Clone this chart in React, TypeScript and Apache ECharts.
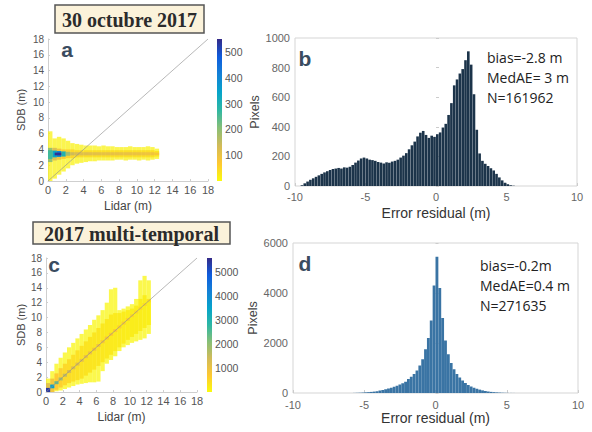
import React, { useEffect, useRef } from "react";
import * as echarts from "echarts";

// ---------- shared bins ----------
const lidarBins = [0, 0.5, 1, 1.5, 2, 2.5, 3, 3.5, 4, 4.5, 5, 5.5, 6, 6.5, 7, 7.5, 8, 8.5, 9, 9.5, 10, 10.5, 11, 11.5, 12];
const lidarBinWidth = 0.5;

// ---------- panel a: 30 octubre 2017 (density, Pixels per cell) ----------
const envLowA = [0.0, 0.3, 0.8, 1.2, 1.6, 2.0, 2.2, 2.3, 2.4, 2.5, 2.5, 2.6, 2.6, 2.6, 2.6, 2.7, 2.7, 2.6, 2.7, 2.7, 2.6, 2.7, 2.6, 2.7, 2.8];
const envHighA = [6.3, 5.4, 5.6, 5.4, 5.1, 4.8, 4.7, 4.6, 4.5, 4.5, 4.5, 4.4, 4.5, 4.4, 4.4, 4.3, 4.3, 4.3, 4.4, 4.3, 4.3, 4.3, 4.4, 4.3, 4.1];
const envCountA = [14, 12, 12, 12, 12, 12, 12, 12, 12, 12, 12, 12, 12, 12, 12, 12, 12, 12, 12, 12, 12, 12, 12, 12, 10];
const bandLowA = [2.4, 2.6, 2.7, 2.8, 2.9, 2.9, 3.0, 3.0, 3.0, 3.0, 3.0, 3.0, 3.0, 3.0, 3.0, 3.0, 3.0, 3.0, 3.0, 3.0, 3.0, 3.0, 3.0, 3.0, 3.1];
const bandHighA = [4.2, 4.2, 4.1, 4.0, 4.0, 4.0, 3.9, 3.9, 3.9, 3.9, 3.9, 3.9, 3.9, 3.9, 3.9, 3.9, 3.9, 3.9, 3.9, 3.9, 3.9, 3.9, 3.9, 3.9, 3.8];
const bandCountA = [200, 120, 90, 70, 55, 50, 45, 45, 42, 42, 40, 40, 40, 40, 40, 40, 40, 40, 40, 40, 40, 40, 40, 38, 32];
const coreLowA = [2.8, 3.0, 3.05, 3.1, 3.2, 3.25, 3.25, 3.25, 3.25, 3.25, 3.25, 3.25, 3.25, 3.25, 3.25, 3.25, 3.25, 3.25, 3.25, 3.25, 3.25, 3.25, 3.25, 3.25, 3.3];
const coreHighA = [3.9, 3.85, 3.8, 3.75, 3.7, 3.65, 3.65, 3.65, 3.65, 3.65, 3.65, 3.65, 3.65, 3.65, 3.65, 3.65, 3.65, 3.65, 3.65, 3.65, 3.65, 3.65, 3.65, 3.65, 3.6];
const coreCountA = [260, 340, 400, 300, 180, 140, 125, 118, 115, 112, 110, 108, 106, 105, 104, 103, 102, 100, 100, 98, 96, 95, 92, 90, 80];
const peakCellsA = [[0.75, 1.5, 3.25, 3.6, 540]];
const pixelsMaxA = 550;

// ---------- panel b: residual histogram (bins of 0.2 m from -10) ----------
const residualStart = -10;
const residualStep = 0.2;
const countsB = [
  0, 0, 5, 18, 30, 42, 52, 62, 72, 82,
  92, 100, 108, 115, 118, 122, 118, 126, 124, 130,
  142, 158, 172, 186, 192, 186, 178, 175, 170, 162,
  158, 152, 160, 157, 165, 170, 178, 192, 205, 222,
  248, 275, 300, 335, 360, 372, 345, 325, 340, 332,
  350, 362, 395, 420, 480, 560, 680, 720, 760, 790,
  850, 910, 820, 620, 380, 220, 170, 150, 135, 120,
  105, 82, 58, 38, 22, 12, 5, 2, 0, 0,
  0, 0, 0, 0, 0, 0, 0, 0, 0, 0,
  0, 0, 0, 0, 0, 0, 0, 0, 0, 0,
];
const statsB = ["bias=-2.8 m", "MedAE= 3 m", "N=161962"];

// ---------- panel c: 2017 multi-temporal ----------
const envLowC = [0.0, 0.0, 0.1, 0.2, 0.4, 0.6, 0.8, 1.0, 1.1, 1.2, 1.3, 1.3, 1.4, 2.8, 3.8, 4.3, 4.8, 5.5, 6.0, 6.3, 6.6, 6.8, 7.0, 7.2, 7.8];
const envHighC = [1.8, 2.8, 3.8, 4.6, 5.3, 6.0, 6.6, 7.2, 7.8, 8.4, 9.0, 9.7, 10.3, 11.0, 12.0, 13.8, 14.0, 11.0, 11.2, 11.5, 11.8, 12.5, 15.0, 15.6, 15.0];
const envCountC = [90, 80, 80, 80, 80, 80, 80, 80, 80, 80, 80, 80, 80, 80, 80, 80, 80, 80, 80, 80, 80, 80, 80, 80, 80];
const bandLowC = [0.0, 0.0, 0.3, 0.6, 0.9, 1.2, 1.4, 1.6, 1.8, 2.2, 2.6, 3.0, 3.5, 4.0, 4.5, 5.0, 5.5, 6.0, 6.5, 7.0, 7.4, 7.8, 8.2, 8.6, 9.0];
const bandHighC = [1.2, 1.8, 2.5, 3.2, 3.8, 4.4, 5.0, 5.6, 6.2, 6.8, 7.4, 8.0, 8.6, 9.2, 9.8, 10.4, 10.6, 10.6, 10.8, 11.0, 11.2, 11.6, 12.5, 13.0, 12.5];
const bandCountC = [1200, 900, 700, 600, 500, 450, 400, 380, 350, 330, 320, 300, 300, 280, 260, 250, 240, 230, 220, 210, 200, 200, 200, 190, 180];
const coreLowC = [0.0, 0.5, 1.05, 1.55, 2.05, 2.55, 3.05, 3.55, 4.05, 4.55, 5.05, 5.55, 6.05, 6.55, 7.05, 7.55, 8.05, 8.55, 9.05, 9.55, 10.05, 10.55, 11.05, 11.55, 12.05];
const coreHighC = [0.55, 1.0, 1.45, 1.95, 2.45, 2.95, 3.45, 3.95, 4.45, 4.95, 5.45, 5.95, 6.45, 6.95, 7.45, 7.95, 8.45, 8.95, 9.45, 9.95, 10.45, 10.95, 11.45, 11.95, 12.45];
const coreCountC = [5400, 3600, 2400, 1800, 1500, 1300, 1200, 1100, 1050, 1000, 950, 900, 850, 800, 750, 700, 650, 600, 600, 550, 500, 500, 450, 450, 400];
const pixelsMaxC = 5600;

// ---------- panel d ----------
const countsD = [
  0, 0, 0, 0, 0, 0, 0, 0, 0, 0,
  0, 0, 0, 0, 0, 0, 0, 0, 0, 0,
  0, 4, 8, 12, 18, 26, 34, 44, 56, 70,
  100, 120, 150, 180, 210, 250, 290, 340, 390, 450,
  560, 650, 760, 900, 1100, 1350, 1750, 2200, 2900, 4300,
  5450, 4200, 3000, 2100, 1550, 1200, 950, 760, 620, 500,
  400, 320, 260, 210, 170, 135, 105, 80, 60, 45,
  34, 25, 18, 12, 8, 5, 3, 2, 1, 0,
  0, 0, 0, 0, 0, 0, 0, 0, 0, 0,
  0, 0, 0, 0, 0, 0, 0, 0, 0, 0,
];
const statsD = ["bias=-0.2m", "MedAE=0.4 m", "N=271635"];

const oneToOne = [[0, 0], [18, 18]];

// reversed parula colormap
const PARULA_R = ["#f9fb0e", "#fec832", "#d1bb59", "#87bf77", "#2eb7a4", "#06a4ca", "#1481d6", "#0f5cdd", "#352a87"];

const SANS = "Liberation Sans, Arial, sans-serif";

function cells(lows: number[], highs: number[], counts: number[]) {
  return lidarBins.map((x, i) => [x, x + lidarBinWidth, lows[i], highs[i], counts[i]]);
}
function histData(counts: number[]) {
  return counts.map((c, i) => [residualStart + i * residualStep, residualStart + (i + 1) * residualStep, c]);
}

function densitySeries(data: number[][], gi: number, opacity: number) {
  return {
    type: "custom",
    xAxisIndex: gi,
    yAxisIndex: gi,
    encode: { x: [0, 1], y: [2, 3] },
    silent: true,
    data,
    renderItem: (_p: any, api: any) => {
      const p0 = api.coord([api.value(0), api.value(2)]);
      const p1 = api.coord([api.value(1), api.value(3)]);
      return {
        type: "rect",
        shape: { x: p0[0], y: p1[1], width: p1[0] - p0[0], height: p0[1] - p1[1] },
        style: { fill: api.visual("color"), opacity },
      };
    },
  };
}

function histSeries(counts: number[], gi: number, color: string, gap: number) {
  return {
    type: "custom",
    xAxisIndex: gi,
    yAxisIndex: gi,
    encode: { x: [0, 1], y: 2 },
    silent: true,
    data: histData(counts),
    renderItem: (_p: any, api: any) => {
      const p0 = api.coord([api.value(0), 0]);
      const p1 = api.coord([api.value(1), api.value(2)]);
      return {
        type: "rect",
        shape: { x: p0[0], y: p1[1], width: Math.max(0.3, p1[0] - p0[0] - gap), height: p0[1] - p1[1] },
        style: { fill: color },
      };
    },
  };
}

function colorbarSeries(max: number, gi: number) {
  return {
    type: "custom",
    xAxisIndex: gi,
    yAxisIndex: gi,
    encode: { x: 0, y: 1 },
    silent: true,
    data: [[0, max]],
    renderItem: (_p: any, api: any) => {
      const p0 = api.coord([0, 0]);
      const p1 = api.coord([1, api.value(1)]);
      return {
        type: "rect",
        shape: { x: p0[0], y: p1[1], width: p1[0] - p0[0], height: p0[1] - p1[1] },
        style: {
          fill: new echarts.graphic.LinearGradient(0, 1, 0, 0, PARULA_R.map((c, i) => ({ offset: i / (PARULA_R.length - 1), color: c }))),
        },
      };
    },
  };
}

function lineSeries(gi: number) {
  return {
    type: "line",
    xAxisIndex: gi,
    yAxisIndex: gi,
    data: oneToOne,
    symbol: "none",
    silent: true,
    lineStyle: { color: "#8f8f8f", width: 0.8, opacity: 0.8 },
    z: 5,
  };
}

const lightLine = { show: true, lineStyle: { color: "#cfcfcf" } };

function scatterX(gi: number, nameGap: number) {
  return {
    type: "value", gridIndex: gi, min: 0, max: 18, interval: 2,
    axisLine: lightLine,
    axisTick: { show: true, inside: true, length: 2, lineStyle: { color: "#cfcfcf" } },
    splitLine: { show: false },
    axisLabel: { fontSize: 11, margin: 3, color: "#555", fontFamily: SANS },
    name: "Lidar (m)", nameLocation: "middle", nameGap,
    nameTextStyle: { fontSize: 12, color: "#444", fontFamily: SANS },
  };
}
function scatterY(gi: number, nameGap: number) {
  return {
    type: "value", gridIndex: gi, min: 0, max: 18, interval: 2,
    axisLine: lightLine,
    axisTick: { show: true, inside: true, length: 2, lineStyle: { color: "#cfcfcf" } },
    splitLine: { show: false },
    axisLabel: { fontSize: 10, margin: 4, color: "#555", fontFamily: SANS },
    name: "SDB (m)", nameLocation: "middle", nameGap, nameRotate: 90,
    nameTextStyle: { fontSize: 11, color: "#444", fontFamily: SANS },
  };
}
function cbX(gi: number) {
  return { type: "value", gridIndex: gi, min: 0, max: 1, show: false };
}
function cbY(gi: number, max: number, interval: number, top: number) {
  return {
    type: "value", gridIndex: gi, min: 0, max, interval, position: "right",
    axisLine: { show: false }, axisTick: { show: false }, splitLine: { show: false },
    axisLabel: {
      fontSize: 10.5, margin: 3, color: "#555", fontFamily: SANS,
      formatter: (v: number) => (v > 0 && v <= top ? String(v) : ""),
    },
  };
}
function histX(gi: number, labelMargin: number, nameGap: number) {
  return {
    type: "value", gridIndex: gi, min: -10, max: 10, interval: 5,
    axisLine: { show: false },
    axisTick: { show: true, inside: true, length: 3, lineStyle: { color: "#cccccc" } },
    splitLine: { show: false },
    axisLabel: { fontSize: 11, margin: labelMargin, color: "#666", fontFamily: SANS },
    name: "Error residual (m)", nameLocation: "middle", nameGap,
    nameTextStyle: { fontSize: 14, color: "#333", fontFamily: SANS },
  };
}
function histY(gi: number, max: number, interval: number, nameGap: number) {
  return {
    type: "value", gridIndex: gi, min: 0, max, interval,
    axisLine: { show: false },
    axisTick: { show: true, inside: true, length: 3, lineStyle: { color: "#cccccc" } },
    splitLine: { show: false },
    axisLabel: { fontSize: 11, margin: 5, color: "#666", fontFamily: SANS, formatter: (v: number) => String(v) },
    name: "Pixels", nameLocation: "middle", nameGap, nameRotate: 90,
    nameTextStyle: { fontSize: 12.5, color: "#444", fontFamily: SANS },
  };
}

function titleBox(x: number, y: number, w: number, h: number, text: string) {
  return [
    { type: "rect", shape: { x, y, width: w, height: h }, style: { fill: "#fbf2da", stroke: "#555", lineWidth: 1.5 } },
    {
      type: "text", x: x + w / 2, y: y + h / 2 + 1,
      style: { text, fill: "#2b2b2b", font: "bold 20px 'Liberation Serif', serif", align: "center", verticalAlign: "middle" },
    },
  ];
}
function letter(x: number, y: number, text: string) {
  return {
    type: "text", x, y,
    style: { text, fill: "#3a4c60", font: "bold 21px 'Liberation Sans', sans-serif", align: "center", verticalAlign: "middle" },
  };
}
function stats(x: number, y0: number, lines: string[]) {
  return lines.map((t, i) => ({
    type: "text", x, y: y0 + i * 20,
    style: { text: t, fill: "#222", font: "14px 'Open Sans', sans-serif", align: "left", verticalAlign: "middle" },
  }));
}

const densA = [
  densitySeries(cells(envLowA, envHighA, envCountA), 0, 0.75),
  densitySeries(cells(bandLowA, bandHighA, bandCountA), 0, 0.95),
  densitySeries([...cells(coreLowA, coreHighA, coreCountA), ...peakCellsA], 0, 1),
];
const densC = [
  densitySeries(cells(envLowC, envHighC, envCountC), 3, 0.75),
  densitySeries(cells(bandLowC, bandHighC, bandCountC), 3, 0.95),
  densitySeries(cells(coreLowC, coreHighC, coreCountC), 3, 1),
];

const option: any = {
  animation: false,
  backgroundColor: "#ffffff",
  grid: [
    { left: 48, top: 39, width: 160, height: 142 },
    { left: 217, top: 39, width: 5, height: 142 },
    { left: 295, top: 38, width: 282, height: 148, show: true, borderColor: "#d5d5d5", borderWidth: 1 },
    { left: 46, top: 258, width: 151, height: 134 },
    { left: 207, top: 258, width: 5, height: 134 },
    { left: 293, top: 243, width: 285, height: 150, show: true, borderColor: "#d5d5d5", borderWidth: 1 },
  ],
  xAxis: [
    scatterX(0, 19),
    cbX(1),
    histX(2, 5, 20),
    scatterX(3, 19),
    cbX(4),
    histX(5, 6, 15),
  ],
  yAxis: [
    scatterY(0, 22),
    cbY(1, pixelsMaxA, 100, 500),
    histY(2, 1000, 200, 33),
    scatterY(3, 20),
    cbY(4, pixelsMaxC, 1000, 5000),
    histY(5, 6000, 2000, 31),
  ],
  visualMap: [
    { type: "continuous", show: false, min: 0, max: pixelsMaxA, dimension: 4, seriesIndex: [0, 1, 2], inRange: { color: PARULA_R } },
    { type: "continuous", show: false, min: 0, max: pixelsMaxC, dimension: 4, seriesIndex: [6, 7, 8], inRange: { color: PARULA_R } },
  ],
  series: [
    ...densA,
    lineSeries(0),
    colorbarSeries(pixelsMaxA, 1),
    histSeries(countsB, 2, "#1c344a", 0.2),
    ...densC,
    lineSeries(3),
    colorbarSeries(pixelsMaxC, 4),
    histSeries(countsD, 5, "#3a74a4", 0),
  ],
  graphic: [
    ...titleBox(55, 5, 149, 28, "30 octubre 2017"),
    ...titleBox(33, 222, 197, 22, "2017 multi-temporal"),
    letter(67, 49, "a"),
    letter(305, 58, "b"),
    letter(54, 264, "c"),
    letter(305, 263, "d"),
    ...stats(487, 57, statsB),
    ...stats(480, 265, statsD),
  ],
};

export default function App() {
  const ref = useRef<HTMLDivElement>(null);
  useEffect(() => {
    const chart = echarts.init(ref.current!, null, { renderer: "svg" });
    chart.setOption(option);
    return () => chart.dispose();
  }, []);
  return (
    <div
      ref={ref}
      style={{ position: "fixed", left: 0, top: 0, width: 592, height: 432, background: "#fff" }}
    />
  );
}
